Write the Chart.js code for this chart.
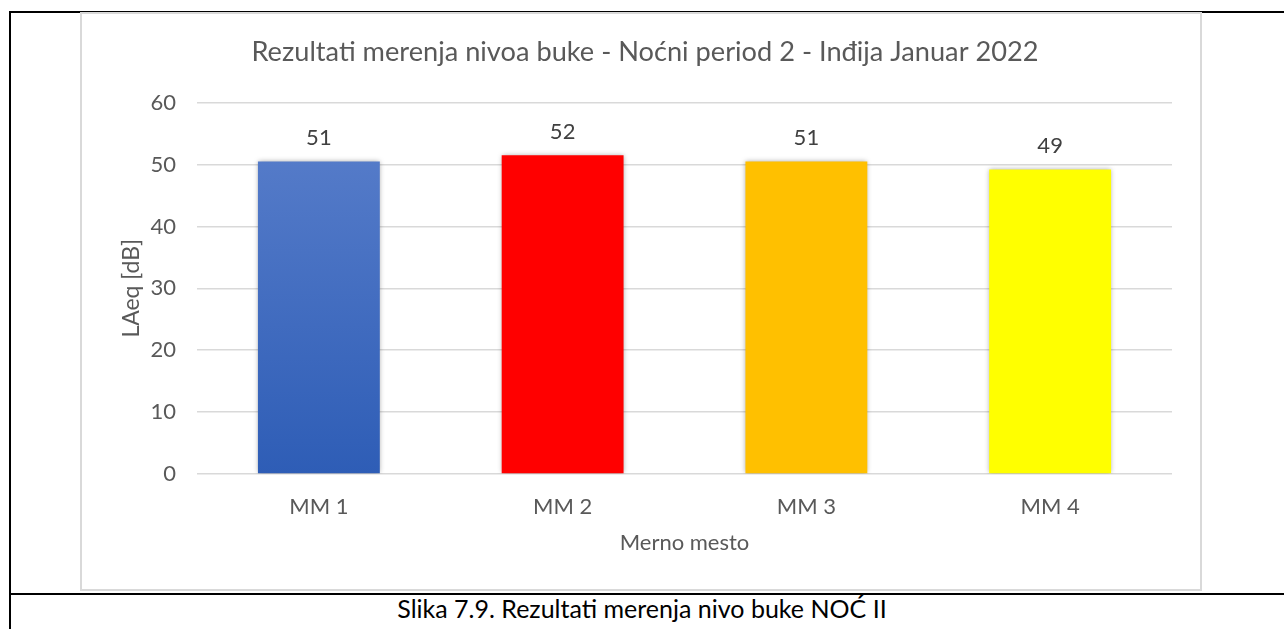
<!DOCTYPE html>
<html>
<head>
<meta charset="utf-8">
<script src="https://cdn.jsdelivr.net/npm/chart.js@4/dist/chart.umd.min.js"></script>
<style>
  html, body { margin: 0; padding: 0; background: #fff; }
  body { width: 1284px; height: 629px; position: relative; overflow: hidden; font-family: Lato, "Open Sans", sans-serif; }
  .cell { position: absolute; left: 9px; top: 11px; width: 1290px; height: 640px; border: 2px solid #000; box-sizing: border-box; }
  .divider { position: absolute; left: 9px; top: 593px; width: 1290px; height: 2px; background: #000; }
  .frame { position: absolute; left: 80px; top: 12px; width: 1122px; height: 579px; border: 2px solid #D9D9D9; box-sizing: border-box; background: #fff; }
  .frame canvas { position: absolute; left: 0; top: 0; }
  .caption { position: absolute; left: 0; width: 1284px; top: 594px; text-align: center; font-size: 25px; color: #000; line-height: 28px; }
</style>
</head>
<body>
<div class="cell"></div>
<div class="divider"></div>
<div class="frame"><canvas id="chart" width="1118" height="575"></canvas></div>
<div class="caption">Slika 7.9. Rezultati merenja nivo buke NOĆ II</div>
<script>
// Measuring points and their night-time equivalent noise level (dB)
const categories = ['MM 1', 'MM 2', 'MM 3', 'MM 4'];
const laeqValues = [50.5, 51.5, 50.5, 49.2];
const yTicks = [0, 10, 20, 30, 40, 50, 60];
const barColors = ['#4472C4', '#FF0000', '#FFC000', '#FFFF00'];

const titleText = 'Rezultati merenja nivoa buke - Noćni period 2 - Inđija Januar 2022';
const grey = '#595959';

// Soft shadow around the bars
const barShadow = {
  id: 'barShadow',
  beforeDatasetsDraw(chart) {
    const ctx = chart.ctx;
    ctx.save();
    ctx.shadowColor = 'rgba(0,0,0,0.35)';
    ctx.shadowBlur = 5;
    ctx.shadowOffsetX = 0;
    ctx.shadowOffsetY = 0;
  },
  afterDatasetsDraw(chart) {
    chart.ctx.restore();
  }
};

// Rounded value printed above each bar
const valueLabels = {
  id: 'valueLabels',
  afterDatasetsDraw(chart) {
    const ctx = chart.ctx;
    const meta = chart.getDatasetMeta(0);
    ctx.save();
    ctx.font = '22px Lato';
    ctx.fillStyle = '#404040';
    ctx.textAlign = 'center';
    ctx.textBaseline = 'alphabetic';
    meta.data.forEach((bar, i) => {
      const v = chart.data.datasets[0].data[i];
      ctx.fillText(Math.round(v).toString(), bar.x, bar.y - 16);
    });
    ctx.restore();
  }
};

function barFill(context) {
  const i = context.dataIndex;
  if (i !== 0) return barColors[i];
  const area = context.chart.chartArea;
  if (!area) return barColors[0];
  const g = context.chart.ctx.createLinearGradient(0, area.top, 0, area.bottom);
  g.addColorStop(0, '#5B80CC');
  g.addColorStop(1, '#2E5DB6');
  return g;
}

new Chart(document.getElementById('chart'), {
  type: 'bar',
  data: {
    labels: categories,
    datasets: [{
      data: laeqValues,
      backgroundColor: barFill,
      borderWidth: 0,
      categoryPercentage: 1.0,
      barPercentage: 0.5
    }]
  },
  plugins: [barShadow, valueLabels],
  options: {
    responsive: false,
    animation: false,
    layout: { padding: { top: 0, left: 36, right: 28, bottom: 33 } },
    plugins: {
      legend: { display: false },
      tooltip: { enabled: false },
      title: {
        display: true,
        text: titleText,
        color: grey,
        font: { family: 'Lato', size: 27.2, weight: 'normal' },
        padding: { top: 22, bottom: 34 }
      }
    },
    scales: {
      x: {
        grid: { display: false, drawTicks: false },
        border: { display: false },
        ticks: { color: grey, font: { family: 'Lato', size: 22 }, padding: 20 },
        title: {
          display: true,
          text: 'Merno mesto',
          color: grey,
          font: { family: 'Lato', size: 22 },
          padding: { top: 0, bottom: 0 }
        },
        afterFit(scale) { scale.height = 82; }
      },
      y: {
        min: 0,
        max: 60,
        afterBuildTicks(scale) { scale.ticks = yTicks.map(v => ({ value: v })); },
        grid: { color: '#D9D9D9', lineWidth: 1.5, drawTicks: false },
        border: { display: false },
        ticks: { color: grey, font: { family: 'Lato', size: 22 }, padding: 21 },
        title: {
          display: true,
          text: 'LAeq [dB]',
          color: grey,
          font: { family: 'Lato', size: 23 },
          padding: { top: 0, bottom: 0 }
        },
        afterFit(scale) { scale.width = 79; }
      }
    }
  }
});
</script>
</body>
</html>
